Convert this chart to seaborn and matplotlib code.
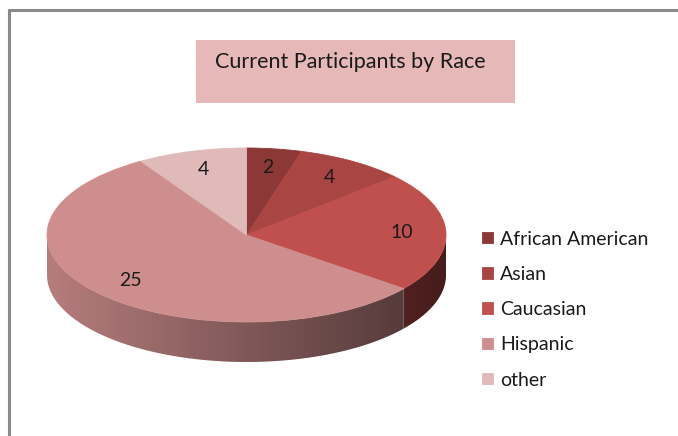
import numpy as np
import matplotlib
matplotlib.use("Agg")
import matplotlib.pyplot as plt
import seaborn as sns
from matplotlib.patches import Polygon, Rectangle
from matplotlib.colors import to_rgb

# data
races = ["African American", "Asian", "Caucasian", "Hispanic", "other"]
counts = [2, 4, 10, 25, 4]
colors = ["#8C3836", "#A94644", "#C0504D", "#CF8E8E", "#E0B9B9"]
title = "Current Participants by Race"

sns.set_theme(style="white")
plt.rcParams["font.family"] = ["Lato", "DejaVu Sans"]

W, H = 678, 436
fig = plt.figure(figsize=(W / 100, H / 100), dpi=100)

# background axes in pixel units (frame + title box)
ax = fig.add_axes([0, 0, 1, 1])
ax.set_xlim(0, W)
ax.set_ylim(H, 0)
ax.axis("off")
ax.plot([8, W], [10, 10], color="#8a8a8a", lw=2.2, solid_capstyle="butt")
ax.plot([8.5, 8.5], [9, H], color="#8a8a8a", lw=2.2, solid_capstyle="butt")
ax.add_patch(Rectangle((196, 40), 319, 63, facecolor="#E6B9B8", edgecolor="none"))
ax.text(350, 62, title, ha="center", va="center", fontsize=15.5, color="#1a1a1a")

# pie axes: top face ellipse spans x 47..446, y 148..322; side depth ~40 px
rx, ry, depth = 199.5, 87.0, 40.0
d = depth / ry
pax = fig.add_axes([47 / W, (H - 322 - depth) / H, 2 * rx / W, (2 * ry + depth) / H])
pax.patch.set_alpha(0)

wedges, texts, autotexts = pax.pie(
    counts, colors=colors, startangle=90, counterclock=False, radius=1,
    autopct=lambda p: f"{round(p * sum(counts) / 100)}", pctdistance=0.78,
    wedgeprops=dict(linewidth=0.6), textprops=dict(fontsize=14, color="#1a1a1a"),
)
for w, c in zip(wedges, colors):
    w.set_edgecolor(c)
    w.set_zorder(3)
for t in autotexts:
    t.set_zorder(4)

# side of the 3d pie: visible front half (angles 180..360), shaded left->right
xs = np.linspace(-1, 1, 400)
shade = 0.62 - 0.26 * xs
for w, c in zip(wedges, colors):
    ts = np.linspace(w.theta1, w.theta2, 400)
    ts = ts[(np.mod(ts, 360) >= 180)]
    if len(ts) < 2:
        continue
    ts = np.sort(np.mod(ts, 360))
    tr = np.radians(ts)
    top = np.column_stack([np.cos(tr), np.sin(tr)])
    bot = np.column_stack([np.cos(tr), np.sin(tr) - d])[::-1]
    poly = Polygon(np.vstack([top, bot]), closed=True, facecolor="none",
                   edgecolor="none", transform=pax.transData)
    pax.add_patch(poly)
    rgb = np.array(to_rgb(c))
    img = (shade[None, :, None] * rgb[None, None, :]).clip(0, 1)
    im = pax.imshow(img, extent=[-1, 1, -1 - d, 0], aspect="auto",
                    interpolation="bilinear", zorder=1)
    im.set_clip_path(poly)
pax.set_aspect("auto")
pax.set_xlim(-1, 1)
pax.set_ylim(-1 - d, 1)
pax.axis("off")

# legend
fig.legend(wedges, races, loc="upper left", bbox_to_anchor=(465 / W, 1 - 213 / H),
           frameon=False, fontsize=14, handlelength=0.52, handleheight=0.52,
           handletextpad=0.38, labelspacing=0.94, labelcolor="#1a1a1a")

fig.savefig("out.png", dpi=100)
